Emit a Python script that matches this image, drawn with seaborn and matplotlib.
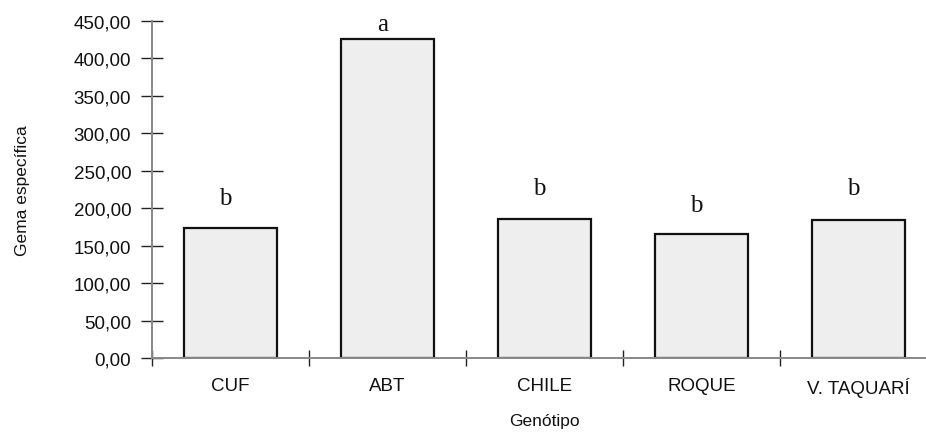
import matplotlib
matplotlib.use("Agg")
import matplotlib.pyplot as plt
import seaborn as sns
import pandas as pd

genotipos = ["CUF", "ABT", "CHILE", "ROQUE", "V. TAQUARÍ"]
gema = [174.0, 426.5, 186.0, 166.0, 184.5]
letras = ["b", "a", "b", "b", "b"]
letra_offset_px = [19, 4, 20, 18, 21]
yticks = [0, 50, 100, 150, 200, 250, 300, 350, 400, 450]
ytick_labels = ["0,00", "50,00", "100,00", "150,00", "200,00", "250,00",
                "300,00", "350,00", "400,00", "450,00"]

sns.set_style("white")
plt.rcParams['font.family'] = ['Liberation Sans', 'DejaVu Sans']
plt.rcParams['text.color'] = '#111111'
plt.rcParams['xtick.color'] = '#111111'
plt.rcParams['ytick.color'] = '#111111'
plt.rcParams['axes.labelcolor'] = '#111111'

df = pd.DataFrame({"Genótipo": genotipos, "Gema": gema})

fig = plt.figure(figsize=(9.26, 4.35), dpi=100)
ax = fig.add_axes([152/926, 76/435, 785/926, 337/435])

sns.barplot(data=df, x="Genótipo", y="Gema", ax=ax, color="#eeeeee",
            edgecolor="#111111", linewidth=1.6, width=0.59, saturation=1)

ax.set_xlim(-0.5, 4.5)
ax.set_ylim(0, 450)

for i, (v, l, off) in enumerate(zip(gema, letras, letra_offset_px)):
    ax.annotate(l, (i - 0.03, v), xytext=(0, off * 0.72), textcoords="offset points",
                ha="center", va="bottom", fontsize=18,
                family=["Liberation Serif", "DejaVu Serif"])

ax.set_yticks(yticks)
ax.set_yticklabels(ytick_labels, fontsize=13.5)
ax.set_xticks(range(len(genotipos)))
ax.set_xticklabels(genotipos, fontsize=13.5)
ax.tick_params(axis="x", which="major", bottom=True, length=0, pad=14)
# category boundary ticks
ax.set_xticks([i - 0.5 for i in range(len(genotipos) + 1)], minor=True)
ax.tick_params(axis="x", which="minor", bottom=True, direction="inout",
               length=11, width=1, color="#222222")
ax.tick_params(axis="y", left=True, direction="inout", length=16, width=1,
               color="#222222", pad=7)

for s in ["top", "right"]:
    ax.spines[s].set_visible(False)
for s in ["left", "bottom"]:
    ax.spines[s].set_color("#888888")
    ax.spines[s].set_linewidth(1.4)

ax.set_xlabel("Genótipo", fontsize=12.5, labelpad=11)
ax.set_ylabel("Gema específica", fontsize=12.5, labelpad=31)

fig.savefig("out.png", dpi=100)
